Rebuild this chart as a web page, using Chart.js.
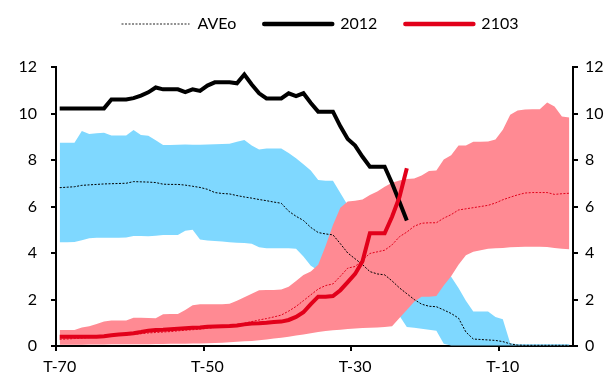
<!DOCTYPE html>
<html>
<head>
<meta charset="utf-8">
<script src="https://cdn.jsdelivr.net/npm/chart.js@4.4.1/dist/chart.umd.min.js"></script>
<style>
  html, body { margin: 0; padding: 0; background: #ffffff; }
  #wrap { width: 608px; height: 376px; }
</style>
</head>
<body>
<div id="wrap"><canvas id="chart" width="608" height="376"></canvas></div>
<script>
// Periods before the event, T-70 ... T-1
const periods = [
  'T-70','T-69','T-68','T-67','T-66','T-65','T-64','T-63','T-62','T-61',
  'T-60','T-59','T-58','T-57','T-56','T-55','T-54','T-53','T-52','T-51',
  'T-50','T-49','T-48','T-47','T-46','T-45','T-44','T-43','T-42','T-41',
  'T-40','T-39','T-38','T-37','T-36','T-35','T-34','T-33','T-32','T-31',
  'T-30','T-29','T-28','T-27','T-26','T-25','T-24','T-23','T-22','T-21',
  'T-20','T-19','T-18','T-17','T-16','T-15','T-14','T-13','T-12','T-11',
  'T-10','T-9','T-8','T-7','T-6','T-5','T-4','T-3','T-2','T-1'
];

// Range of past episodes, falling profile (upper / lower edge)
const fallHigh = [
  8.74, 8.74, 8.74, 9.25, 9.12, 9.15, 9.17, 9.05, 9.05, 9.05,
  9.29, 9.08, 9.04, 8.85, 8.65, 8.65, 8.66, 8.67, 8.66, 8.66,
  8.67, 8.68, 8.69, 8.70, 8.78, 8.86, 8.62, 8.45, 8.50, 8.50,
  8.50, 8.30, 8.08, 7.82, 7.55, 7.14, 7.11, 7.11, 6.58, 6.05,
  5.80, 5.50, 5.20, 4.95, 4.70, 4.50, 4.30, 4.10, 3.90, 3.70,
  3.50, 3.35, 3.20, 2.98, 2.50, 1.95, 1.48, 1.48, 1.48, 1.25,
  1.15, 0.12, 0.08, 0.08, 0.08, 0.08, 0.08, 0.08, 0.08, 0.08
];
const fallLow = [
  4.46, 4.46, 4.47, 4.55, 4.63, 4.66, 4.66, 4.66, 4.66, 4.67,
  4.73, 4.73, 4.72, 4.74, 4.77, 4.77, 4.77, 4.96, 5.00, 4.58,
  4.54, 4.52, 4.50, 4.46, 4.44, 4.43, 4.40, 4.25, 4.20, 4.20,
  4.20, 4.20, 4.18, 3.85, 3.45, 3.25, 3.00, 2.75, 2.50, 2.30,
  2.10, 1.90, 1.75, 1.60, 1.50, 1.40, 1.30, 0.82, 0.78, 0.74,
  0.70, 0.66, 0.10, 0.02, 0.02, 0.02, 0.02, 0.02, 0.02, 0.02,
  0.02, 0.02, 0.02, 0.02, 0.02, 0.02, 0.02, 0.02, 0.02, 0.02
];

// Range of past episodes, rising profile (upper / lower edge)
const riseHigh = [
  0.69, 0.69, 0.69, 0.80, 0.85, 0.95, 1.05, 1.10, 1.10, 1.10,
  1.22, 1.21, 1.20, 1.19, 1.37, 1.38, 1.38, 1.55, 1.75, 1.80,
  1.80, 1.80, 1.80, 1.82, 1.95, 2.10, 2.25, 2.40, 2.41, 2.41,
  2.43, 2.55, 2.80, 3.05, 3.20, 3.50, 4.30, 5.20, 5.95, 6.22,
  6.25, 6.30, 6.50, 6.65, 6.85, 7.02, 7.12, 7.18, 7.20, 7.33,
  7.53, 7.55, 8.02, 8.20, 8.62, 8.62, 8.79, 8.79, 8.80, 8.88,
  9.30, 9.95, 10.13, 10.17, 10.18, 10.18, 10.47, 10.30, 9.87, 9.83
];
const riseLow = [
  0.05, 0.05, 0.05, 0.05, 0.06, 0.06, 0.06, 0.07, 0.07, 0.07,
  0.08, 0.08, 0.08, 0.09, 0.09, 0.10, 0.10, 0.10, 0.11, 0.11,
  0.12, 0.13, 0.14, 0.16, 0.18, 0.20, 0.22, 0.25, 0.28, 0.32,
  0.36, 0.40, 0.45, 0.50, 0.55, 0.60, 0.65, 0.68, 0.70, 0.73,
  0.75, 0.77, 0.79, 0.80, 0.82, 0.85, 1.20, 1.55, 1.90, 2.12,
  2.12, 2.15, 2.60, 3.00, 3.50, 3.90, 4.05, 4.12, 4.18, 4.20,
  4.22, 4.25, 4.26, 4.27, 4.27, 4.27, 4.26, 4.22, 4.18, 4.16
];

// Averages of the two profiles
const aveFall = [
  6.81, 6.83, 6.85, 6.91, 6.93, 6.95, 6.97, 6.98, 6.99, 7.00,
  7.07, 7.06, 7.05, 7.03, 6.96, 6.95, 6.95, 6.92, 6.87, 6.82,
  6.74, 6.60, 6.56, 6.54, 6.47, 6.41, 6.36, 6.30, 6.25, 6.19,
  6.14, 5.80, 5.58, 5.40, 5.10, 4.88, 4.82, 4.78, 4.40, 4.00,
  3.75, 3.50, 3.20, 3.10, 3.06, 2.80, 2.50, 2.25, 2.00, 1.80,
  1.71, 1.69, 1.55, 1.40, 1.20, 0.60, 0.30, 0.28, 0.26, 0.24,
  0.19, 0.09, 0.04, 0.03, 0.03, 0.03, 0.03, 0.03, 0.03, 0.03
];
const aveRise = [
  0.29, 0.30, 0.32, 0.34, 0.36, 0.38, 0.41, 0.44, 0.46, 0.48,
  0.50, 0.53, 0.56, 0.58, 0.60, 0.62, 0.65, 0.68, 0.70, 0.73,
  0.76, 0.80, 0.84, 0.88, 0.93, 0.98, 1.05, 1.12, 1.18, 1.25,
  1.33, 1.50, 1.70, 1.95, 2.20, 2.45, 2.60, 2.67, 3.00, 3.35,
  3.42, 3.70, 3.98, 4.05, 4.12, 4.35, 4.70, 4.90, 5.15, 5.28,
  5.30, 5.30, 5.50, 5.65, 5.85, 5.90, 5.95, 6.00, 6.05, 6.15,
  6.29, 6.40, 6.50, 6.58, 6.60, 6.60, 6.60, 6.52, 6.55, 6.57
];

// Current paths, T-70 ... T-23
const path2012 = [
  10.22, 10.22, 10.22, 10.22, 10.22, 10.22, 10.22, 10.60, 10.60, 10.60,
  10.66, 10.77, 10.91, 11.12, 11.04, 11.04, 11.04, 10.92, 11.04, 10.97,
  11.20, 11.34, 11.34, 11.34, 11.30, 11.68, 11.25, 10.87, 10.65, 10.65,
  10.65, 10.87, 10.75, 10.87, 10.45, 10.08, 10.08, 10.08, 9.45, 8.90,
  8.62, 8.14, 7.71, 7.71, 7.71, 7.00, 6.20, 5.40
];
const path2103 = [
  0.40, 0.40, 0.40, 0.40, 0.40, 0.40, 0.42, 0.46, 0.49, 0.52,
  0.55, 0.60, 0.66, 0.69, 0.70, 0.72, 0.74, 0.76, 0.78, 0.80,
  0.83, 0.84, 0.85, 0.86, 0.88, 0.93, 0.97, 0.98, 1.00, 1.03,
  1.05, 1.12, 1.25, 1.45, 1.80, 2.12, 2.12, 2.15, 2.40, 2.75,
  3.10, 3.65, 4.85, 4.85, 4.85, 5.56, 6.40, 7.65
];

// Axis tick values
const valueTicks = [0, 2, 4, 6, 8, 10, 12];
const periodTickEvery = 20;

const BLUE_BAND = '#7fd8ff';
const RED_BAND = '#ff8a93';
const RED_LINE = '#e2001a';
const FONT = { family: 'Lato, "DejaVu Sans", sans-serif', size: 16 };

// Legend geometry: taller box so the plot starts lower, and a right shift
const LEGEND_TOP = -12;
const LEGEND_HEIGHT = 79;
const LEGEND_SHIFT = 16;

const legendSizer = {
  id: 'legendSizer',
  beforeInit(chart) {
    const legend = chart.legend;
    const origFit = legend.fit;
    legend.fit = function () {
      origFit.call(this);
      this.height = LEGEND_HEIGHT;
      if (this.lineWidths) this.lineWidths = this.lineWidths.map(w => w - 2 * LEGEND_SHIFT);
    };
  }
};

const line = (label, data, color, width, dash, order, extra) => Object.assign({
  label, data, borderColor: color, backgroundColor: color, borderWidth: width,
  borderDash: dash, pointRadius: 0, pointHoverRadius: 0, tension: 0, fill: false,
  order, yAxisID: 'y', borderJoinStyle: 'miter'
}, extra || {});

const yScale = (position, width, padding) => ({
  type: 'linear', position, min: 0, max: 12,
  afterBuildTicks(scale) { scale.ticks = valueTicks.map(v => ({ value: v })); },
  afterFit(scale) { scale.width = width; },
  ticks: { color: '#000', font: FONT, padding, stepSize: 2 },
  grid: { drawOnChartArea: false, drawTicks: true, tickLength: 5, color: '#000', lineWidth: 2 },
  border: { display: true, color: '#000', width: 2 }
});

new Chart(document.getElementById('chart'), {
  type: 'line',
  data: {
    labels: periods,
    datasets: [
      line('AVEo', aveFall, '#000', 1, [2, 1.5], 2),
      line('2012', path2012, '#000', 4, [], 1),
      line('2103', path2103, RED_LINE, 4, [], 0),
      line('AVEo rise', aveRise, RED_LINE, 1, [2, 1.5], 2),
      line('rise high', riseHigh, 'rgba(0,0,0,0)', 0, [], 3, { fill: '+1', backgroundColor: RED_BAND }),
      line('rise low', riseLow, 'rgba(0,0,0,0)', 0, [], 4),
      line('fall high', fallHigh, 'rgba(0,0,0,0)', 0, [], 5, { fill: '+1', backgroundColor: BLUE_BAND }),
      line('fall low', fallLow, 'rgba(0,0,0,0)', 0, [], 6)
    ]
  },
  options: {
    responsive: false,
    animation: false,
    devicePixelRatio: 1,
    layout: { padding: { top: LEGEND_TOP, left: 0, right: 0, bottom: 0 } },
    plugins: {
      tooltip: { enabled: false },
      filler: { propagate: false },
      legend: {
        position: 'top',
        align: 'center',
        labels: {
          color: '#000',
          font: FONT,
          usePointStyle: true,
          pointStyle: 'line',
          pointStyleWidth: 68,
          padding: 28,
          generateLabels(chart) {
            const items = Chart.defaults.plugins.legend.labels.generateLabels(chart);
            return items
              .filter(it => it.datasetIndex < 3)
              .sort((a, b) => a.datasetIndex - b.datasetIndex)
              .map(it => {
                it.lineCap = 'round';
                if (it.datasetIndex === 0) {
                  it.strokeStyle = '#6e6e6e';
                  it.lineWidth = 1.5;
                  it.lineCap = 'butt';
                  it.lineDash = [2, 1.5];
                } else {
                  it.lineWidth = 4.5;
                }
                return it;
              });
          }
        }
      }
    },
    scales: {
      x: {
        type: 'category',
        offset: true,
        afterFit(scale) { scale.height = 30; },
        ticks: {
          autoSkip: false, maxRotation: 0, minRotation: 0, color: '#000', font: FONT, padding: 6,
          callback: (v, i) => (i % periodTickEvery === 0 ? periods[i] : '')
        },
        grid: {
          offset: true, drawOnChartArea: false, drawTicks: true, tickLength: 5, lineWidth: 2,
          color: ctx => (ctx.index % periodTickEvery === 0 ? '#000' : 'rgba(0,0,0,0)')
        },
        border: { display: true, color: '#000', width: 2 }
      },
      y: yScale('left', 56, 14),
      y2: yScale('right', 35, 7)
    }
  },
  plugins: [legendSizer]
});
</script>
</body>
</html>
